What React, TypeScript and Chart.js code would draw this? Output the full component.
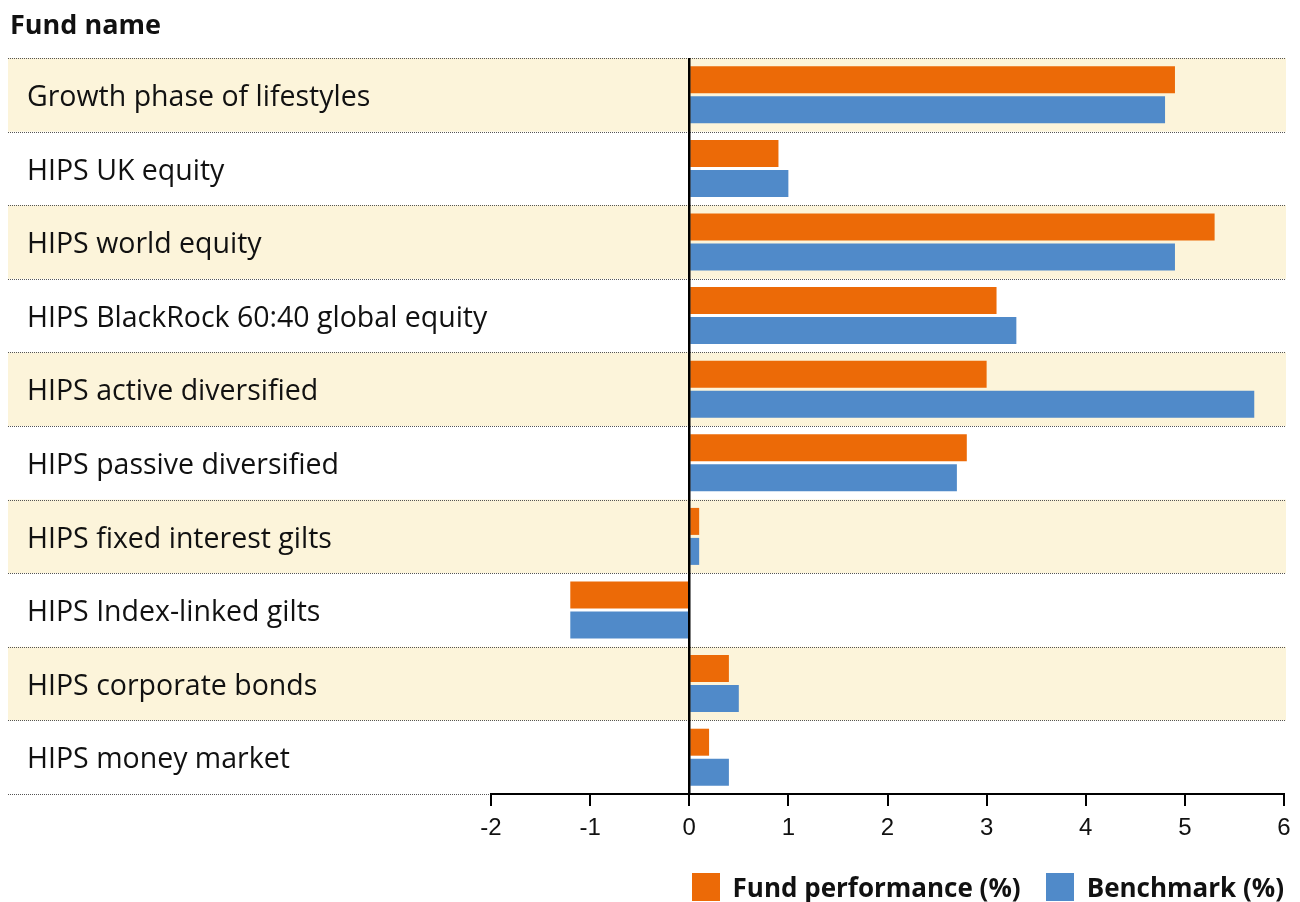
import React, { useEffect, useRef } from "react";
import { Chart, registerables } from "chart.js";

Chart.register(...registerables);

const categories: string[] = [
  "Growth phase of lifestyles",
  "HIPS UK equity",
  "HIPS world equity",
  "HIPS BlackRock 60:40 global equity",
  "HIPS active diversified",
  "HIPS passive diversified",
  "HIPS fixed interest gilts",
  "HIPS Index-linked gilts",
  "HIPS corporate bonds",
  "HIPS money market",
];

const fundPerformance: number[] = [4.9, 0.9, 5.3, 3.1, 3.0, 2.8, 0.1, -1.2, 0.4, 0.2];
const benchmark: number[] = [4.8, 1.0, 4.9, 3.3, 5.7, 2.7, 0.1, -1.2, 0.5, 0.4];

const seriesNames: string[] = ["Fund performance (%)", "Benchmark (%)"];
const xMin = -2;
const xMax = 6;
const titleText = "Fund name";

const ORANGE = "#EC6A07";
const BLUE = "#508AC9";
const BAND = "#FCF4DA";
const LABEL_FONT = "'Open Sans', 'Noto Sans', sans-serif";
const seriesColors: string[] = [ORANGE, BLUE];

const bandsPlugin = {
  id: "bands",
  beforeDraw(chart: any) {
    const { ctx, chartArea } = chart;
    const n = categories.length;
    const rowH = (chartArea.bottom - chartArea.top) / n;
    const right = chartArea.right + 2;
    ctx.save();
    for (let i = 0; i < n; i++) {
      if (i % 2 === 0) {
        ctx.fillStyle = BAND;
        ctx.fillRect(0, chartArea.top + i * rowH, right, rowH);
      }
    }
    ctx.strokeStyle = "#555";
    ctx.lineWidth = 1;
    ctx.setLineDash([1, 1]);
    for (let i = 0; i <= n; i++) {
      const yy = Math.round(chartArea.top + i * rowH) + 0.5;
      ctx.beginPath();
      ctx.moveTo(0, yy);
      ctx.lineTo(right, yy);
      ctx.stroke();
    }
    ctx.restore();
  },
  afterDatasetsDraw(chart: any) {
    const { ctx, chartArea, scales } = chart;
    const x0 = scales.x.getPixelForValue(0);
    ctx.save();
    ctx.strokeStyle = "#000";
    ctx.lineWidth = 2.5;
    ctx.beginPath();
    ctx.moveTo(x0, chartArea.top);
    ctx.lineTo(x0, chartArea.bottom);
    ctx.stroke();
    ctx.restore();
  },
};

export default function App() {
  const canvasRef = useRef<HTMLCanvasElement | null>(null);

  useEffect(() => {
    const canvas = canvasRef.current;
    if (!canvas) return;
    const chart = new Chart(canvas, {
      type: "bar",
      data: {
        labels: categories,
        datasets: [
          {
            label: seriesNames[0],
            data: fundPerformance,
            backgroundColor: ORANGE,
            borderWidth: 0,
            categoryPercentage: 0.815,
            barPercentage: 0.9,
          },
          {
            label: seriesNames[1],
            data: benchmark,
            backgroundColor: BLUE,
            borderWidth: 0,
            categoryPercentage: 0.815,
            barPercentage: 0.9,
          },
        ],
      },
      options: {
        indexAxis: "y",
        responsive: false,
        animation: false,
        devicePixelRatio: 1,
        layout: { padding: { top: 50, left: 19, right: 8, bottom: 0 } },
        plugins: {
          title: { display: false },
          tooltip: { enabled: false },
          legend: { display: false },
        },
        scales: {
          x: {
            type: "linear",
            min: xMin,
            max: xMax,
            ticks: {
              stepSize: 1,
              color: "#111",
              padding: 8,
              font: { family: "'Liberation Sans Narrow', 'Arial Narrow', 'Liberation Sans', sans-serif", size: 24 },
            },
            grid: {
              display: true,
              drawOnChartArea: false,
              drawTicks: true,
              tickLength: 12,
              color: "#000",
              lineWidth: 2,
            },
            border: { display: true, color: "#000", width: 2 },
            afterFit(scale: any) {
              scale.height = 108;
              scale.paddingLeft = 0;
              scale.paddingRight = 0;
            },
          },
          y: {
            type: "category",
            position: "left",
            ticks: {
              crossAlign: "far",
              color: "#111",
              padding: 0,
              labelOffset: 3,
              font: { family: LABEL_FONT, size: 28.5 },
            },
            grid: { display: false },
            border: { display: false },
            afterFit(scale: any) {
              scale.width = 464;
            },
          },
        },
      },
      plugins: [bandsPlugin],
    } as any);
    return () => chart.destroy();
  }, []);

  return (
    <div style={{ position: "relative", width: 1284, height: 894 }}>
      <canvas ref={canvasRef} width={1284} height={894} style={{ position: "absolute", left: 0, top: 0 }} />
      <div
        style={{
          position: "absolute",
          left: 2,
          top: 1,
          fontFamily: LABEL_FONT,
          fontWeight: "bold",
          fontSize: 27,
          lineHeight: "30px",
          color: "#111",
        }}
      >
        {titleText}
      </div>
      <div
        style={{
          position: "absolute",
          right: 8,
          top: 865,
          display: "flex",
          alignItems: "center",
          height: 28,
          fontFamily: LABEL_FONT,
          fontWeight: "bold",
          fontSize: 26,
          color: "#111",
          whiteSpace: "nowrap",
        }}
      >
        {seriesNames.map((name, i) => (
          <div key={name} style={{ display: "flex", alignItems: "center", marginLeft: i === 0 ? 0 : 25 }}>
            <span style={{ display: "inline-block", width: 28, height: 28, background: seriesColors[i], marginRight: 13 }} />
            <span>{name}</span>
          </div>
        ))}
      </div>
    </div>
  );
}
